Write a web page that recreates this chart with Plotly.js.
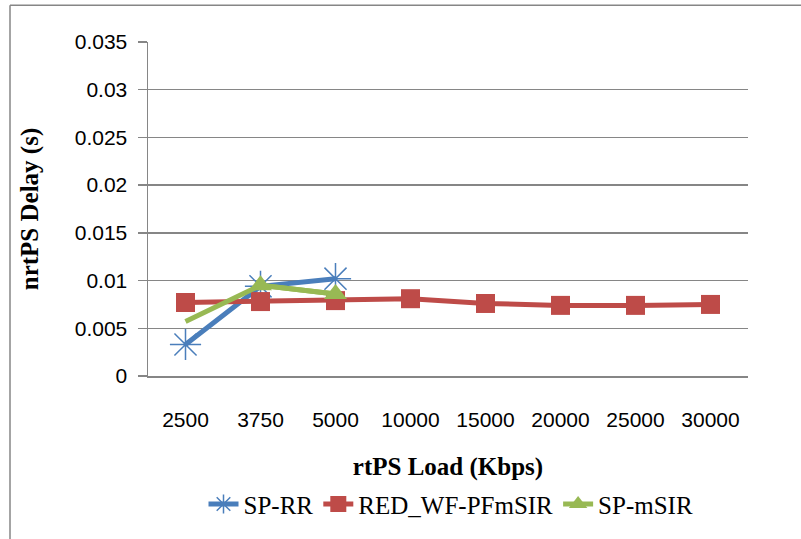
<!DOCTYPE html>
<html>
<head>
<meta charset="utf-8">
<script src="https://cdn.plot.ly/plotly-3.0.1.min.js"></script>
<style>html,body{margin:0;padding:0;background:#fff;}#chart{width:801px;height:539px;}</style>
</head>
<body>
<div id="chart"></div>
<script>
const categories = ["2500", "3750", "5000", "10000", "15000", "20000", "25000", "30000"];
const spRR = [0.0033, 0.0094, 0.0102];
const redWF = [0.0077, 0.0078, 0.0079, 0.0081, 0.0076, 0.0074, 0.0074, 0.0075];
const spMSIR = [0.0057, 0.0095, 0.0086];
const yTicks = [0, 0.005, 0.01, 0.015, 0.02, 0.025, 0.03, 0.035];
const yTickText = ["0", "0.005", "0.01", "0.015", "0.02", "0.025", "0.03", "0.035"];

const tickFont = {family: "Liberation Sans", size: 21, color: "#000"};
const titleFont = {family: "Liberation Serif", size: 25, color: "#000"};
const legendFont = {family: "Liberation Serif", size: 25, color: "#000"};

const traces = [
  {
    name: "SP-RR", x: categories.slice(0, spRR.length), y: spRR, type: "scatter", mode: "lines+markers",
    line: {color: "#4a7ebb", width: 5},
    marker: {symbol: "asterisk-open", size: 26, color: "#4a7ebb", line: {color: "#4a7ebb", width: 1.5}}
  },
  {
    name: "RED_WF-PFmSIR", x: categories, y: redWF, type: "scatter", mode: "lines+markers",
    line: {color: "#be4b48", width: 5},
    marker: {symbol: "square", size: 19, color: "#be4b48"}
  },
  {
    name: "SP-mSIR", x: categories.slice(0, spMSIR.length), y: spMSIR, type: "scatter", mode: "lines",
    line: {color: "#98b954", width: 5}, showlegend: false
  },
  {
    name: "SP-mSIR", x: categories.slice(1, spMSIR.length), y: spMSIR.slice(1), type: "scatter", mode: "lines+markers",
    line: {color: "#98b954", width: 5},
    marker: {symbol: "triangle-up", size: 20, color: "#98b954"}
  }
];

const layout = {
  width: 801, height: 539,
  margin: {l: 148, r: 53, t: 42, b: 159},
  paper_bgcolor: "#fff", plot_bgcolor: "#fff",
  showlegend: true,
  legend: {
    orientation: "h", x: 0.505, xanchor: "center", y: -0.384, yanchor: "middle",
    font: legendFont, tracegroupgap: 0
  },
  xaxis: {
    type: "category", categoryarray: categories,
    showgrid: false, showline: true, linecolor: "#868686", linewidth: 1.5,
    ticks: "", tickfont: tickFont, ticklabelstandoff: 24,
    title: {text: "<b>rtPS Load (Kbps)</b>", font: titleFont, standoff: 28},
    range: [-0.5, 7.5], zeroline: false, fixedrange: true
  },
  yaxis: {
    range: [0, 0.035], tickvals: yTicks, ticktext: yTickText,
    showgrid: true, gridcolor: "#868686", gridwidth: 1.5,
    showline: true, linecolor: "#868686", linewidth: 1.5,
    ticks: "outside", ticklen: 9, tickcolor: "#868686", tickwidth: 1.5,
    tickfont: tickFont, ticklabelstandoff: 6,
    title: {text: "<b>nrtPS Delay (s)</b>", font: titleFont, standoff: 29},
    zeroline: false, fixedrange: true
  },
  shapes: [
    {type: "line", xref: "paper", yref: "paper", x0: -0.23, x1: -0.23, y0: -0.5, y1: 1.11, line: {color: "#868686", width: 1.5}},
    {type: "line", xref: "paper", yref: "paper", x0: -0.23, x1: 1.1, y0: 1.11, y1: 1.11, line: {color: "#868686", width: 1.5}}
  ]
};

Plotly.newPlot("chart", traces, layout, {displayModeBar: false, staticPlot: true});
</script>
</body>
</html>
